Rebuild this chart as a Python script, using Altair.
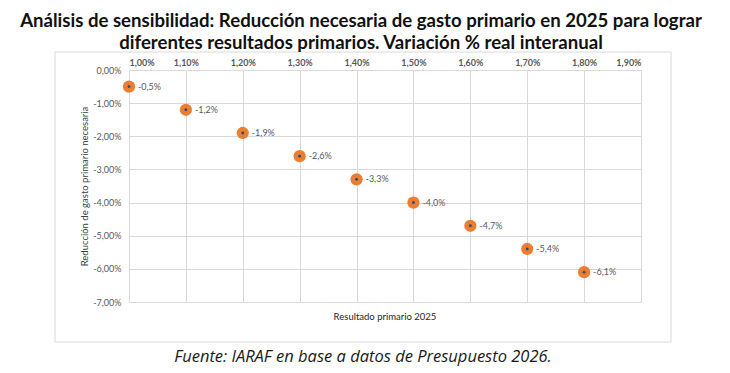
import altair as alt
import pandas as pd

# Data
resultado = [1.0, 1.1, 1.2, 1.3, 1.4, 1.5, 1.6, 1.7, 1.8]
reduccion = [-0.5, -1.2, -1.9, -2.6, -3.3, -4.0, -4.7, -5.4, -6.1]
x_ticks = [1.0, 1.1, 1.2, 1.3, 1.4, 1.5, 1.6, 1.7, 1.8, 1.9]
y_ticks = [0, -1, -2, -3, -4, -5, -6, -7]

title_lines = [
    "Análisis de sensibilidad: Reducción necesaria de gasto primario en 2025 para lograr",
    "diferentes resultados primarios. Variación % real interanual",
]
x_title = "Resultado primario 2025"
y_title = "Reducción de gasto primario necesaria"
footer = "Fuente: IARAF en base a datos de Presupuesto 2026."

df = pd.DataFrame({"resultado": resultado, "reduccion": reduccion})

FONT = "Lato"
W, H = 512, 232

lab_expr = "replace(replace(format(datum.value, '.2f'), '.', ','), '\u2212', '-') + '%'"

x_scale = alt.Scale(domain=[1.0, 1.9], nice=False, zero=False)
y_scale = alt.Scale(domain=[-7, 0], nice=False)

x_axis = alt.Axis(
    orient="top", values=x_ticks, labelExpr=lab_expr, title=None,
    grid=True, gridColor="#d9d9d9", domainColor="#d9d9d9", ticks=False,
    labelFont=FONT, labelFontSize=9, labelFontWeight="bold", labelColor="#595959",
    labelPadding=3, labelOverlap=False, labelSeparation=0,
)
y_axis = alt.Axis(
    values=y_ticks, labelExpr=lab_expr, title=y_title,
    grid=True, gridColor="#d9d9d9", domainColor="#d9d9d9", ticks=False,
    labelFont=FONT, labelFontSize=9, labelColor="#595959", labelPadding=8,
    labelOverlap=False, labelSeparation=0, labelBound=False,
    titleFont=FONT, titleFontSize=9.5, titleFontWeight="normal", titleColor="#404040",
    titlePadding=3,
)
x_enc = alt.X("resultado:Q", scale=x_scale, axis=x_axis)
y_enc = alt.Y("reduccion:Q", scale=y_scale, axis=y_axis)

base = alt.Chart(df)

outer = base.mark_circle(size=150, color="#ED7D31", opacity=1).encode(x=x_enc, y=y_enc)
inner = base.mark_circle(size=8, color="#1F4E79", opacity=1).encode(x=x_enc, y=y_enc)
labels = base.transform_calculate(
    lab="replace(replace(format(datum.reduccion, '.1f'), '.', ','), '\u2212', '-') + '%'"
).mark_text(align="left", baseline="middle", dx=9, font=FONT, fontSize=9, color="#595959").encode(
    x=x_enc, y=y_enc, text="lab:N"
)

one = pd.DataFrame({"t": [""]})
frame = alt.Chart(one).mark_rect(fill=None, stroke="#d9d9d9", strokeWidth=1).encode(
    x=alt.value(-74), x2=alt.value(542), y=alt.value(-18), y2=alt.value(272)
)
xtitle = alt.Chart(pd.DataFrame({"t": [x_title]})).mark_text(
    font=FONT, fontSize=9.5, color="#262626", baseline="middle"
).encode(text="t:N", x=alt.value(W / 2), y=alt.value(247))
foot = alt.Chart(pd.DataFrame({"t": [footer]})).mark_text(
    font="Open Sans", fontSize=16.5, fontStyle="italic", color="#1a1a1a", baseline="middle"
).encode(text="t:N", x=alt.value(234), y=alt.value(287))

chart = alt.layer(outer, inner, labels, frame, xtitle, foot).properties(
    width=W, height=H,
    padding={"left": 121, "top": 62, "right": 81, "bottom": 67},
    autosize=alt.AutoSizeParams(type="none"),
    title=alt.Title(
        text=title_lines, anchor="middle", font=FONT, fontSize=18.6, fontWeight="bold",
        color="#111111", dx=-24, offset=-1, lineHeight=22,
    ),
).configure_view(stroke=None)

chart.save("out.html", embed_options={"renderer": "svg", "actions": False})
